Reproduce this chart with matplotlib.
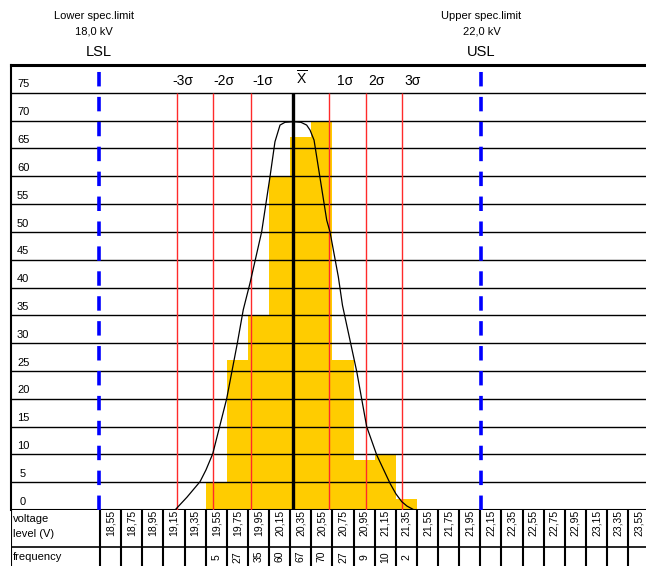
import numpy as np
import matplotlib
matplotlib.use('Agg')
import matplotlib.pyplot as plt

plt.rcParams['font.family'] = ['Liberation Sans', 'DejaVu Sans']
plt.rcParams['mathtext.fontset'] = 'custom'
plt.rcParams['mathtext.rm'] = 'Liberation Sans'

# Data
volts = [18.55, 18.75, 18.95, 19.15, 19.35, 19.55, 19.75, 19.95, 20.15, 20.35,
         20.55, 20.75, 20.95, 21.15, 21.35, 21.55, 21.75, 21.95, 22.15, 22.35,
         22.55, 22.75, 22.95, 23.15, 23.35, 23.55]
freq = [None, None, None, None, None, 5, 27, 35, 60, 67,
        70, 27, 9, 10, 2, None, None, None, None, None,
        None, None, None, None, None, None]

# spec limits as drawn (volts on the chart's axis)
lsl_pos = 18.44
usl_pos = 22.06
lsl_text = ['Lower spec.limit', '18,0 kV', 'LSL']
usl_text = ['Upper spec.limit', '22,0 kV', 'USL']

# mean and sigma lines
mean_pos = 20.28
sigma_pos = [19.176, 19.517, 19.876, 20.620, 20.968, 21.311]
sigma_labels = ['-3σ', '-2σ', '-1σ', r'$\overline{\mathrm{X}}$', '1σ', '2σ', '3σ']
sigma_label_pos = [19.231, 19.624, 19.993, 20.362, 20.769, 21.069, 21.413]

# normal curve, points
curve_x = [19.160, 19.273, 19.397, 19.453, 19.517, 19.649, 19.750, 19.806, 19.870,
           19.980, 20.059, 20.106, 20.130, 20.154, 20.201, 20.280, 20.352, 20.406,
           20.438, 20.476, 20.596, 20.627, 20.706, 20.745, 20.880, 20.974, 21.069,
           21.195, 21.251, 21.306, 21.356, 21.415]
curve_y = [0.0, 2.3, 5.1, 7.2, 10.1, 20.0, 30.0, 36.0, 40.8,
           50.0, 59.9, 66.2, 67.7, 69.2, 69.7, 69.8, 69.7, 69.2,
           68.3, 66.5, 52.1, 50.0, 41.9, 36.8, 24.9, 15.0, 9.9,
           4.8, 2.9, 1.5, 0.7, 0.1]

yticks = list(range(0, 80, 5))

W, H = 646, 566
fig = plt.figure(figsize=(W / 100, H / 100), dpi=100)

x0, x1 = 17.6076, 23.618
ax = fig.add_axes([11 / W, 56 / H, 635 / W, 445 / H])
ax.set_xlim(x0, x1)
ax.set_ylim(0, 80)
ax.set_xticks([])
ax.set_yticks([])
for s in ['right', 'bottom']:
    ax.spines[s].set_visible(False)
ax.spines['left'].set_linewidth(1.5)
ax.spines['top'].set_linewidth(2.2)

heights = [0 if f is None else f for f in freq]
ax.bar(volts, heights, width=0.2, color='#FFCC00', zorder=1)

for v in yticks:
    ax.axhline(v, color='black', lw=1.5 if v == 0 else 1.0, zorder=2)
    ax.text(x0 + 0.115, v + 0.6, str(v), ha='center', va='bottom', fontsize=8, zorder=6)

ax.vlines(sigma_pos, 0, 75, color='#ff2a2a', lw=1.0, zorder=3)
ax.vlines([mean_pos], 0, 75, color='black', lw=2.4, zorder=5)
ax.plot(curve_x, curve_y, color='black', lw=0.9, zorder=4)

for xp, lab in zip(sigma_label_pos, sigma_labels):
    ax.text(xp, 76.4, lab, ha='center', va='baseline', fontsize=10)

for xp in [lsl_pos, usl_pos]:
    ax.vlines([xp], 0, 80, color='#0000FF', lw=2.6, linestyles=(0, (4.0, 2.9)), zorder=5)

for xp, xc, txt in [(lsl_pos, 18.39, lsl_text), (usl_pos, 22.06, usl_text)]:
    ax.text(xc, 88.8, txt[0], ha='center', va='center', fontsize=8, clip_on=False)
    ax.text(xc, 86.1, txt[1], ha='center', va='center', fontsize=8, clip_on=False)
    ax.text(xp, 82.3, txt[2], ha='center', va='center', fontsize=10.5, clip_on=False)

# table below the chart (y in pixels from its top)
tab = fig.add_axes([11 / W, -1 / H, 635 / W, 57 / H])
tab.set_xlim(x0, x1)
tab.set_ylim(57, 0)
tab.axis('off')
tab.axvline(x0, color='black', lw=1.5)
tab.axhline(37, color='black', lw=1.2)
edges = [v - 0.1 for v in volts] + [volts[-1] + 0.1]
tab.vlines(edges, 0, 57, color='black', lw=1.5)
tab.text(x0 + 0.02, 9, 'voltage', ha='left', va='center', fontsize=8)
tab.text(x0 + 0.02, 24, 'level (V)', ha='left', va='center', fontsize=8)
tab.text(x0 + 0.02, 46.7, 'frequency', ha='left', va='center', fontsize=8)
for v, f in zip(volts, freq):
    tab.text(v, 13, f'{v:.2f}'.replace('.', ','), rotation=90, ha='center', va='center', fontsize=7.5)
    if f is not None:
        tab.text(v, 46.7, str(f), rotation=90, ha='center', va='center', fontsize=7.5)

fig.savefig('out.png', dpi=100)
